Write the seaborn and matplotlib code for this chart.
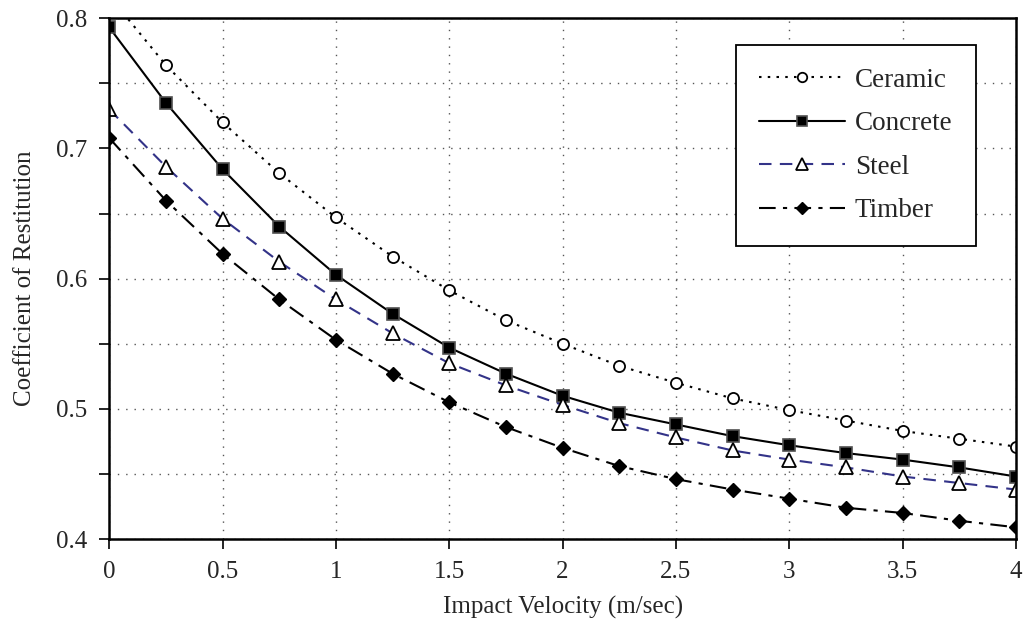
import numpy as np
import pandas as pd
import matplotlib
matplotlib.use("Agg")
import matplotlib.pyplot as plt
import seaborn as sns
from matplotlib.ticker import MultipleLocator

# ─────────────────────────────────────────────
# DATA
# ─────────────────────────────────────────────
velocity = [0, 0.25, 0.5, 0.75, 1, 1.25, 1.5, 1.75, 2, 2.25, 2.5, 2.75, 3, 3.25, 3.5, 3.75, 4]
ceramic  = [0.817, 0.764, 0.720, 0.681, 0.647, 0.617, 0.591, 0.568, 0.550, 0.533, 0.520, 0.508, 0.499, 0.491, 0.483, 0.477, 0.471]
concrete = [0.793, 0.735, 0.684, 0.640, 0.603, 0.573, 0.547, 0.527, 0.510, 0.497, 0.488, 0.479, 0.472, 0.466, 0.461, 0.455, 0.448]
steel    = [0.730, 0.686, 0.646, 0.613, 0.584, 0.558, 0.535, 0.518, 0.503, 0.489, 0.478, 0.468, 0.461, 0.455, 0.448, 0.443, 0.438]
timber   = [0.708, 0.660, 0.619, 0.584, 0.553, 0.527, 0.505, 0.486, 0.470, 0.456, 0.446, 0.438, 0.431, 0.424, 0.420, 0.414, 0.409]

x_ticks = [0, 0.5, 1, 1.5, 2, 2.5, 3, 3.5, 4]
y_ticks = [0.4, 0.5, 0.6, 0.7, 0.8]

materials = ["Ceramic", "Concrete", "Steel", "Timber"]

df = pd.DataFrame({
    "Velocity": velocity * len(materials),
    "COR": ceramic + concrete + steel + timber,
    "Material": np.repeat(materials, len(velocity)),
})

# line / marker styling per series
styles = {
    "Ceramic":  dict(color="black", dashes=(1.2, 3.0), marker="o", ms=8,
                     mfc="white", mec="black", mew=1.3, lw=1.5),
    "Concrete": dict(color="black", dashes=None, marker="s", ms=8,
                     mfc="black", mec="#505050", mew=1.2, lw=1.5),
    "Steel":    dict(color="#333388", dashes=(6.0, 4.0), marker="^", ms=9.5,
                     mfc="white", mec="black", mew=1.3, lw=1.5),
    "Timber":   dict(color="black", dashes=(8.0, 3.5, 2.0, 3.5), marker="D", ms=7.5,
                     mfc="black", mec="black", mew=1.0, lw=1.5),
}

sns.set_style("white")
plt.rcParams["font.family"] = ["Liberation Serif", "DejaVu Serif"]

fig = plt.figure(figsize=(10.25, 6.28), dpi=100)
ax = fig.add_axes([0.1066, 0.1417, 0.8846, 0.8292])

for name in materials:
    st = styles[name]
    sub = df[df["Material"] == name]
    sns.lineplot(data=sub, x="Velocity", y="COR", ax=ax, label=name,
                 color=st["color"], marker=st["marker"], markersize=st["ms"],
                 markerfacecolor=st["mfc"], markeredgecolor=st["mec"],
                 markeredgewidth=st["mew"], linewidth=st["lw"])
    ln = ax.lines[-1]
    if st["dashes"] is not None:
        ln.set_dashes(st["dashes"])

ax.set_xlim(0, 4)
ax.set_ylim(0.4, 0.8)
ax.set_xticks(x_ticks)
ax.set_xticklabels([f"{v:g}" for v in x_ticks])
ax.set_yticks(y_ticks)
ax.set_yticklabels([f"{v:.1f}" for v in y_ticks])
ax.yaxis.set_minor_locator(MultipleLocator(0.05))

ax.grid(which="major", axis="x", color="#555555", linestyle=(0, (1, 5)), linewidth=1.0)
ax.grid(which="both", axis="y", color="#555555", linestyle=(0, (1, 5)), linewidth=1.0)

ax.tick_params(axis="both", which="both", direction="out", length=7, width=1.2,
               color="black", labelsize=18, pad=9)
ax.tick_params(axis="x", which="both", bottom=True, top=False)
ax.tick_params(axis="y", which="both", left=True, right=False)

for sp in ax.spines.values():
    sp.set_visible(True)
    sp.set_color("black")
    sp.set_linewidth(1.8)

ax.set_xlabel("Impact Velocity (m/sec)", fontsize=18, labelpad=9)
ax.set_ylabel("Coefficient of Restitution", fontsize=18, labelpad=14)

leg = ax.legend(loc="upper left", bbox_to_anchor=(0.691, 0.949), fontsize=19.5,
                frameon=True, fancybox=False, shadow=False, framealpha=1,
                edgecolor="black", handlelength=3.2, handletextpad=0.35,
                labelspacing=0.68, borderpad=0.85, borderaxespad=0)
leg.get_frame().set_linewidth(1.3)
for h in leg.get_lines():
    h.set_markersize(h.get_markersize() * 0.85)

fig.savefig("out.png", dpi=100)
plt.close(fig)
